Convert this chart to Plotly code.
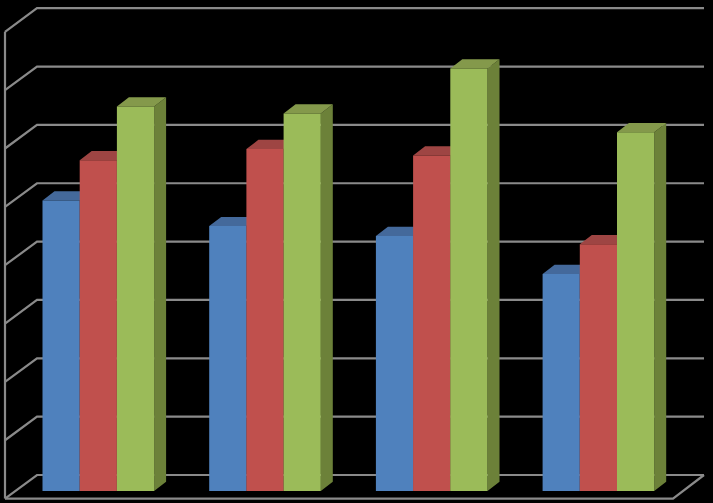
import plotly.graph_objects as go

categories = ["Category 1", "Category 2", "Category 3", "Category 4"]
series_names = ["Series 1", "Series 2", "Series 3"]
blue_values = [4.98, 4.54, 4.37, 3.72]
red_values = [5.67, 5.86, 5.75, 4.23]
green_values = [6.59, 6.47, 7.24, 6.15]
tick_levels = [0, 1, 2, 3, 4, 5, 6, 7, 8]

series_values = [blue_values, red_values, green_values]
front_colors = ["#4F81BD", "#C0504D", "#9BBB59"]
top_colors = ["#44699B", "#9E4543", "#84994B"]
side_colors = ["#3A5A85", "#7F3634", "#6C8139"]
grid_color = "#8A8A8A"

W, H = 713, 503
PX_PER_CAT = 166.7
PX_PER_UNIT = 58.35
BAR_W = 37.2 / PX_PER_CAT
DEPTH_X = 12 / PX_PER_CAT
DEPTH_Y = 9.2 / PX_PER_UNIT
X0_PX = 98.3
Y0_PX = 491.0
x_range = [-X0_PX / PX_PER_CAT, (W - X0_PX) / PX_PER_CAT]
y_range = [(Y0_PX - H) / PX_PER_UNIT, Y0_PX / PX_PER_UNIT]

wall_left = (5 - X0_PX) / PX_PER_CAT
wall_back = (37 - X0_PX) / PX_PER_CAT
floor_right_front = (673 - X0_PX) / PX_PER_CAT
floor_right_back = (704 - X0_PX) / PX_PER_CAT
front_base = (Y0_PX - 498.6) / PX_PER_UNIT
back_base = (Y0_PX - 475.0) / PX_PER_UNIT

fig = go.Figure()

# frame and gridlines
gx, gy = [], []
for k in tick_levels:
    gx += [wall_left, wall_back, floor_right_back, None]
    gy += [front_base + k, back_base + k, back_base + k, None]
gx += [wall_left, wall_left, None, wall_left, floor_right_front, floor_right_back]
gy += [front_base + tick_levels[-1], front_base, None, front_base, front_base, back_base]
fig.add_trace(go.Scatter(x=gx, y=gy, mode="lines", showlegend=False, hoverinfo="skip",
                         line=dict(color=grid_color, width=2.2)))

# top and side faces, computed from the values
for s, vals in enumerate(series_values):
    tx, ty, sx, sy = [], [], [], []
    for g, v in enumerate(vals):
        l = g + (s - 1.5) * BAR_W
        r = l + BAR_W
        tx += [l, r, r + DEPTH_X, l + DEPTH_X, l, None]
        ty += [v, v, v + DEPTH_Y, v + DEPTH_Y, v, None]
        sx += [r, r + DEPTH_X, r + DEPTH_X, r, r, None]
        sy += [0, DEPTH_Y, v + DEPTH_Y, v, 0, None]
    fig.add_trace(go.Scatter(x=sx, y=sy, mode="lines", fill="toself", fillcolor=side_colors[s],
                             line=dict(width=0), showlegend=False, hoverinfo="skip"))
    fig.add_trace(go.Scatter(x=tx, y=ty, mode="lines", fill="toself", fillcolor=top_colors[s],
                             line=dict(width=0), showlegend=False, hoverinfo="skip"))

# front faces on an overlay so they sit above the faces behind them
for s, vals in enumerate(series_values):
    fig.add_trace(go.Bar(x=list(range(len(categories))), y=vals, name=series_names[s],
                         hovertext=categories, marker=dict(color=front_colors[s], line=dict(width=0)),
                         xaxis="x2", yaxis="y2"))

hidden = dict(visible=False, showgrid=False, zeroline=False, fixedrange=True)
fig.update_layout(
    width=W, height=H,
    margin=dict(l=0, r=0, t=0, b=0),
    paper_bgcolor="#000000", plot_bgcolor="#000000",
    showlegend=False,
    barmode="group",
    bargap=1 - 3 * BAR_W,
    bargroupgap=0,
    xaxis=dict(range=x_range, **hidden),
    yaxis=dict(range=y_range, **hidden),
    xaxis2=dict(range=x_range, overlaying="x", **hidden),
    yaxis2=dict(range=y_range, overlaying="y", **hidden),
)

fig.write_html("out.html", config=dict(displayModeBar=False),
               post_script="document.body.style.margin='0';document.body.style.background='#000';")
